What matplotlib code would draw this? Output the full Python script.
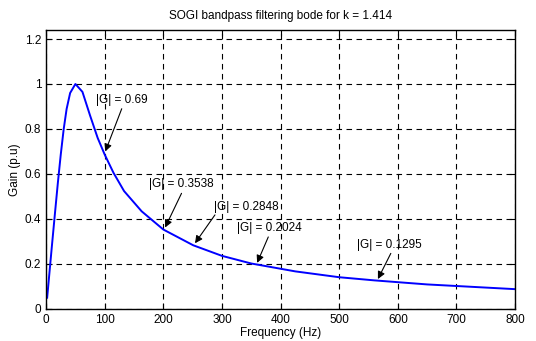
import matplotlib
matplotlib.use('Agg')
import matplotlib.pyplot as plt

plt.rcParams['font.family'] = ['Liberation Sans', 'DejaVu Sans']

freq = [1.8, 5, 10, 15, 20, 25, 30, 35, 41, 50, 62, 75, 88, 100, 115, 133,
        163, 200, 251, 300, 350, 425, 500, 560, 650, 800]
gain = [0.05, 0.141, 0.283, 0.422, 0.559, 0.686, 0.799, 0.889, 0.96, 1.0,
        0.965, 0.86, 0.76, 0.686, 0.605, 0.524, 0.434, 0.353, 0.283, 0.236,
        0.202, 0.167, 0.141, 0.127, 0.109, 0.088]

# annotations: label, text position, arrow tail, arrow tip
notes = [
    ('|G| = 0.69', (85, 0.93), (129, 0.89), (101, 0.70)),
    ('|G| = 0.3538', (176, 0.555), (231, 0.514), (203, 0.362)),
    ('|G| = 0.2848', (287, 0.455), (288, 0.418), (254, 0.292)),
    ('|G| = 0.2024', (325, 0.36), (379, 0.32), (360, 0.205)),
    ('|G| = 0.1295', (530, 0.283), (588, 0.247), (566, 0.133)),
]

fig = plt.figure(figsize=(5.36, 3.41), dpi=100)
ax = fig.add_axes([0.086, 0.094, 0.875, 0.818])

ax.plot(freq, gain, color='#0000ff', lw=1.4)

for label, txt, tail, tip in notes:
    ax.text(txt[0], txt[1], label, fontsize=8.5, ha='left', va='center')
    ax.annotate('', xy=tip, xytext=tail,
                arrowprops=dict(arrowstyle='-|>', color='k', lw=0.8,
                                mutation_scale=11, shrinkA=0, shrinkB=0))

ax.set_xlim(0, 800)
ax.set_ylim(0, 1.24)
ax.set_xticks(range(0, 801, 100))
yt = [0, 0.2, 0.4, 0.6, 0.8, 1, 1.2]
ax.set_yticks(yt)
ax.set_yticklabels(['0', '0.2', '0.4', '0.6', '0.8', '1', '1.2'])
ax.tick_params(direction='in', labelsize=8.5, length=4, top=True, right=True)
ax.grid(True, color='k', ls=(0, (5, 4)), lw=0.8)
for s in ax.spines.values():
    s.set_linewidth(1.0)

ax.set_xlabel('Frequency (Hz)', fontsize=8.5, labelpad=1)
ax.set_ylabel('Gain (p.u)', fontsize=8.5, labelpad=3)
ax.set_title('SOGI bandpass filtering bode for k = 1.414', fontsize=8.5, pad=8)

fig.savefig('out.png', dpi=100)
